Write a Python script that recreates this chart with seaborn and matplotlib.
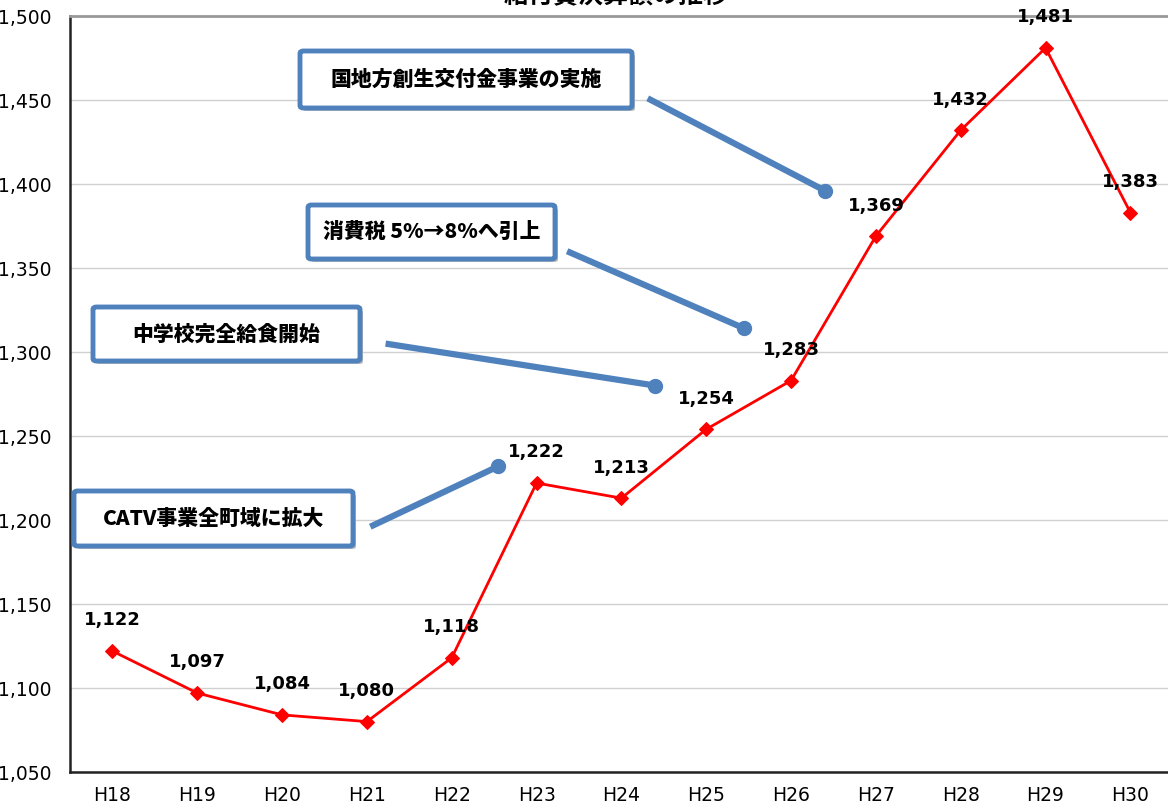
import matplotlib
matplotlib.use('Agg')
import matplotlib.pyplot as plt
import matplotlib.patches as patches
import seaborn as sns
import pandas as pd

# chart data
years = ['H18', 'H19', 'H20', 'H21', 'H22', 'H23', 'H24', 'H25', 'H26', 'H27', 'H28', 'H29', 'H30']
values = [1122, 1097, 1084, 1080, 1118, 1222, 1213, 1254, 1283, 1369, 1432, 1481, 1383]
title_text = '給付費決算額の推移'

# callouts: text, box (figure px: left, top, right, bottom), line start and end (data coords)
callout_texts = ['国地方創生交付金事業の実施', '消費税 5%→8%へ引上', '中学校完全給食開始', 'CATV事業全町域に拡大']
callout_boxes = [(300, 51, 632, 108), (308, 205, 555, 259), (93, 307, 360, 361), (74, 491, 353, 546)]
callout_starts = [(6.31, 1451), (5.36, 1360), (3.22, 1305), (3.04, 1196)]
callout_ends = [(8.40, 1396), (7.45, 1314), (6.40, 1280), (4.55, 1232)]

sns.set_style('white')
plt.rcParams['font.family'] = ['Noto Sans CJK JP', 'DejaVu Sans']
plt.rcParams['text.color'] = 'black'

W, H = 1168, 809
fig = plt.figure(figsize=(W / 100, H / 100), dpi=100)
ax = fig.add_axes([70 / W, 1 - 772 / H, 1102.8 / W, 756 / H])

df = pd.DataFrame({'year': years, 'value': values})
df['pos'] = range(len(years))
sns.lineplot(data=df, x='pos', y='value', ax=ax, color='#FF0000', linewidth=2,
             marker='D', markersize=7, markeredgecolor='#FF0000', zorder=5)

for x, v in zip(df['pos'], df['value']):
    ax.annotate(f'{v:,}', (x, v), xytext=(0, 22), textcoords='offset points',
                ha='center', va='center', fontsize=13, fontweight='bold', color='black',
                family=['DejaVu Sans'], annotation_clip=False, zorder=6)

ax.set_xlim(-0.5, len(years) - 0.5)
ax.set_ylim(1050, 1500)
ax.set_yticks(range(1050, 1501, 50))
ax.set_yticklabels([f'{t:,}' for t in range(1050, 1501, 50)], family='DejaVu Sans', fontsize=13.5)
ax.set_xticks(range(len(years)))
ax.set_xticklabels(years, family='DejaVu Sans', fontsize=13.5)
ax.set_xticks([i + 0.5 for i in range(len(years) - 1)], minor=True)
ax.tick_params(axis='x', which='major', length=0, pad=10, labelcolor='black')
ax.tick_params(axis='x', which='minor', direction='in', length=6, color='#555555')
ax.tick_params(axis='y', direction='in', length=6, color='#555555', pad=13, labelcolor='black')
ax.set_xlabel('')
ax.set_ylabel('')
ax.grid(axis='y', color='#d0d0d0', linewidth=1)
ax.spines['left'].set_linewidth(1.8)
ax.spines['left'].set_color('#222222')
ax.spines['bottom'].set_linewidth(1.8)
ax.spines['bottom'].set_color('#222222')
ax.spines['top'].set_color('#999999')
ax.spines['top'].set_linewidth(2)
ax.spines['right'].set_visible(False)

# callout lines with round ends
for (x0, y0), (x1, y1) in zip(callout_starts, callout_ends):
    ax.plot([x0, x1], [y0, y1], color='#4F81BD', linewidth=4.5, solid_capstyle='butt', zorder=3,
            clip_on=False)
    ax.plot([x1], [y1], 'o', color='#4F81BD', markersize=10, zorder=3, clip_on=False)

# callout boxes
for txt, (l, t, r, b) in zip(callout_texts, callout_boxes):
    shadow = patches.FancyBboxPatch(((l + 3) / W, 1 - (b + 3) / H), (r - l) / W, (b - t) / H,
                                    boxstyle='round,pad=0,rounding_size=0.003', transform=fig.transFigure,
                                    facecolor='#bbbbbb', edgecolor='none', zorder=7)
    box = patches.FancyBboxPatch((l / W, 1 - b / H), (r - l) / W, (b - t) / H,
                                 boxstyle='round,pad=0,rounding_size=0.003', transform=fig.transFigure,
                                 facecolor='white', edgecolor='#4F81BD', linewidth=3.5, zorder=8)
    fig.add_artist(shadow)
    fig.add_artist(box)
    fig.text((l + r) / 2 / W, 1 - (t + b) / 2 / H, txt, ha='center', va='center',
             fontsize=15, fontweight='heavy', color='black', zorder=9)

# title cut off at the top of the image, as in the source
fig.text(616 / W, 1 + 4 / H, title_text, ha='center', va='center', fontsize=18,
         fontweight='bold', color='black')

fig.savefig('out.png', dpi=100)
